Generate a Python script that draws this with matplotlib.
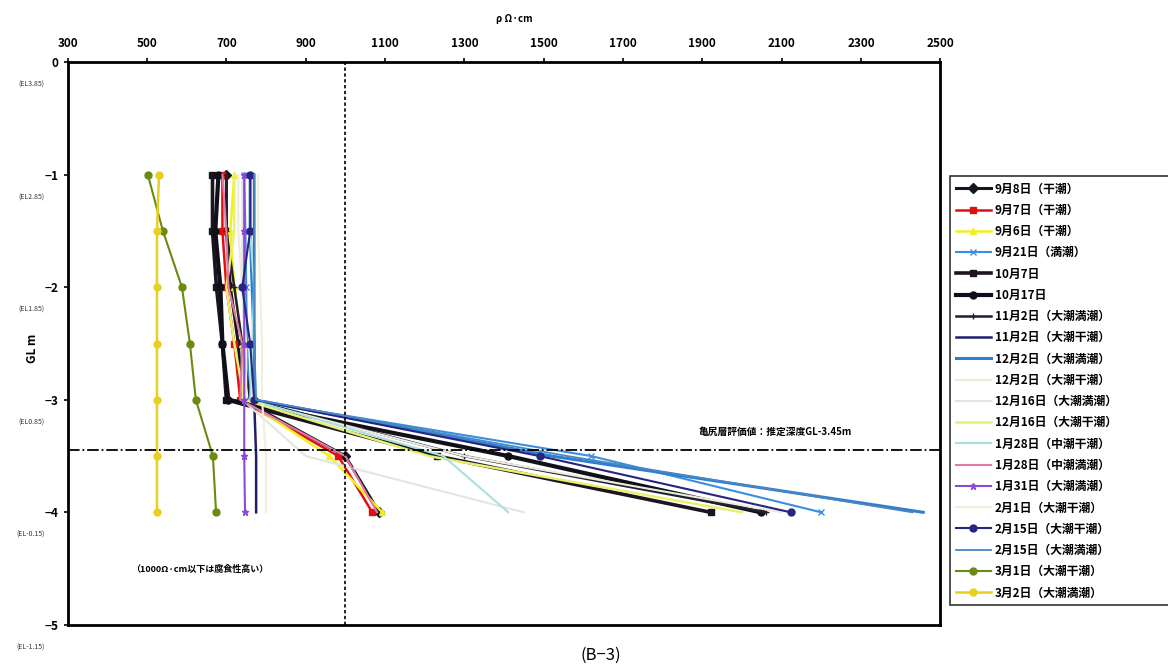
import numpy as np
import matplotlib
matplotlib.use('Agg')
import matplotlib.pyplot as plt
import matplotlib.transforms as mtransforms

plt.rcParams['font.family'] = ['Noto Sans CJK JP', 'DejaVu Sans']

# depth (GL m) and resistivity (Ω·cm)
depth = [-1, -1.5, -2, -2.5, -3, -3.5, -4]

labels = ['9月8日（干潮）', '9月7日（干潮）', '9月6日（干潮）', '9月21日（満潮）',
          '10月7日', '10月17日', '11月2日（大潮満潮）', '11月2日（大潮干潮）',
          '12月2日（大潮満潮）', '12月2日（大潮干潮）', '12月16日（大潮満潮）',
          '12月16日（大潮干潮）', '1月28日（中潮干潮）', '1月28日（中潮満潮）',
          '1月31日（大潮満潮）', '2月1日（大潮干潮）', '2月15日（大潮干潮）',
          '2月15日（大潮満潮）', '3月1日（大潮干潮）', '3月2日（大潮満潮）']

rho = [
    [700, 700, 710, 730, 740, 1000, 1085],    # 9/8
    [690, 690, 700, 720, 735, 982, 1068],     # 9/7
    [720, 710, 720, 740, 745, 960, 1093],     # 9/6
    [745, 748, 750, 752, 758, 1620, 2200],    # 9/21
    [665, 665, 675, 690, 700, 1232, 1921],    # 10/7
    [680, 672, 685, 690, 705, 1411, 2047],    # 10/17
    [700, 700, 720, 740, 760, 1300, 2060],    # 11/2 満
    [770, 770, 770, 770, 770, 775, 775],      # 11/2 干
    [760, 760, 765, 770, 772, 1520, 2457],    # 12/2 満
    [730, 730, 740, 750, 750, 1300, 2100],    # 12/2 干
    [740, 740, 740, 745, 740, 900, 1450],     # 12/16 満
    [720, 720, 700, 720, 745, 1210, 2000],    # 12/16 干
    [760, 760, 770, 765, 760, 1247, 1411],    # 1/28 干
    [690, 700, 705, 740, 735, 1000, 1080],    # 1/28 満
    [745, 745, 745, 745, 745, 745, 747],      # 1/31
    [780, 780, 785, 790, 790, 800, 800],      # 2/1
    [760, 760, 740, 760, 770, 1490, 2123],    # 2/15 干
    [770, 770, 770, 770, 775, 1560, 2430],    # 2/15 満
    [502, 540, 588, 608, 623, 666, 674],      # 3/1
    [530, 525, 525, 525, 525, 525, 525],      # 3/2
]

colors = ['#15151f', '#e01010', '#f0f020', '#3a8ee0', '#1c1420', '#101018',
          '#202030', '#20206a', '#2f7fd0', '#ecebdc', '#e4e4e4', '#e8f070',
          '#a8e0e0', '#e07aa8', '#8a4ad8', '#f0f0e0', '#262680', '#4a86c0',
          '#6a8a10', '#e8d020']
markers = ['D', 's', '^', 'x', 's', 'o', '+', None, None, None, None, None,
           None, None, '*', None, 'o', None, 'o', 'o']
widths = [2.2, 1.8, 1.8, 1.5, 2.6, 3.0, 1.8, 1.8, 2.2, 1.5, 1.5, 1.8,
          1.5, 1.5, 1.5, 1.5, 1.5, 1.3, 1.5, 1.8]

fig = plt.figure(figsize=(11.68, 6.69), dpi=100)
ax = fig.add_axes([0.058, 0.066, 0.747, 0.841])

for i in range(len(labels)):
    ax.plot(rho[i], depth, color=colors[i], lw=widths[i], marker=markers[i],
            ms=5, mec=colors[i], label=labels[i], zorder=3)

ax.axvline(1000, color='black', ls=(0, (2, 1.5)), lw=1.2, zorder=4)
ax.axhline(-3.45, color='black', ls='-.', lw=1.3, zorder=4)

ax.set_xlim(300, 2500)
ax.set_ylim(-5, 0)
ax.set_xticks(np.arange(300, 2501, 200))
ax.set_yticks([0, -1, -2, -3, -4, -5])
ax.xaxis.tick_top()
ax.tick_params(axis='both', labelsize=8.5, length=3, width=1.2)
for lab in ax.get_xticklabels() + ax.get_yticklabels():
    lab.set_fontweight('bold')
ax.tick_params(axis='x', pad=6)
for s in ax.spines.values():
    s.set_linewidth(2.0)

# EL labels under the y ticks
trans = mtransforms.blended_transform_factory(fig.transFigure, ax.transData)
el = ['(EL3.85)', '(EL2.85)', '(EL1.85)', '(EL0.85)', '(EL-0.15)', '(EL-1.15)']
for k, t in enumerate(el):
    ax.text(0.038, -k - 0.2, t, transform=trans, fontsize=5, ha='right',
            va='center', color='#333333')

fig.text(0.028, 0.48, 'GL m', rotation=90, fontsize=8.5, fontweight='bold',
         ha='center', va='center')
fig.text(0.44, 0.972, 'ρ Ω·cm', fontsize=7, fontweight='bold', ha='center',
         va='center')
fig.text(0.514, 0.02, '(B−3)', fontsize=12, ha='center', va='center')

ax.text(1890, -3.28, '亀尻層評価値：推定深度GL-3.45m', fontsize=7,
        fontweight='bold', va='center')
ax.text(460, -4.51, '（1000Ω·cm以下は腐食性高い）', fontsize=6.5,
        fontweight='bold', va='center')

leg = fig.legend(loc='upper left', bbox_to_anchor=(0.808, 0.0, 0.26, 0.745),
                 mode='expand', ncol=1, fontsize=8.5, frameon=True,
                 fancybox=False, handlelength=3.0, labelspacing=0.70,
                 borderpad=0.5, handletextpad=0.3)
leg.get_frame().set_edgecolor('black')
leg.get_frame().set_linewidth(1.2)
for t in leg.get_texts():
    t.set_fontweight('bold')

fig.savefig('out.png', dpi=100, facecolor='white')
